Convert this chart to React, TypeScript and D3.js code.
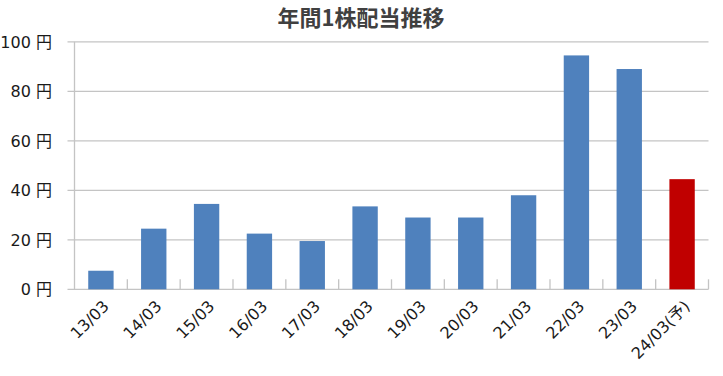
import * as d3 from 'd3';
import React, { useEffect, useRef } from "react";

const categories = ['13/03', '14/03', '15/03', '16/03', '17/03', '18/03', '19/03', '20/03', '21/03', '22/03', '23/03', '24/03(予)'];
const dividends = [7.5, 24.5, 34.5, 22.5, 19.5, 33.5, 29, 29, 38, 94.5, 89, 44.5];
const forecast = [false, false, false, false, false, false, false, false, false, false, false, true];
const yTicks = [0, 20, 40, 60, 80, 100];

const FONT = '"DejaVu Sans", "Noto Sans CJK JP", sans-serif';
const TITLE_FONT = '"Noto Sans CJK JP", sans-serif';

const App: React.FC = () => {
    const ref = useRef<SVGSVGElement>(null);

    useEffect(() => {
        if (!ref.current) return;
        const width = 723;
        const height = 376;
        const left = 74.5;
        const right = 708.5;
        const top = 41.8;
        const bottom = 289.3;

        const svg = d3.select(ref.current)
            .attr('width', width)
            .attr('height', height);
        svg.selectAll('*').remove();

        svg.append('rect').attr('width', width).attr('height', height).attr('fill', '#fff');

        const x = d3.scaleBand<string>()
            .domain(categories)
            .range([left, right])
            .paddingInner(0.52)
            .paddingOuter(0.26);

        const y = d3.scaleLinear().domain([0, 100]).range([bottom, top]);

        // gridlines
        svg.append('g')
            .selectAll('line')
            .data(yTicks)
            .enter()
            .append('line')
            .attr('x1', left - 7)
            .attr('x2', right)
            .attr('y1', d => y(d))
            .attr('y2', d => y(d))
            .attr('stroke', '#c4c4c4')
            .attr('stroke-width', 1.3);

        // vertical axis line
        svg.append('line')
            .attr('x1', left).attr('x2', left)
            .attr('y1', top).attr('y2', bottom)
            .attr('stroke', '#c4c4c4')
            .attr('stroke-width', 1.3);

        // x tick marks at band boundaries
        const step = x.step();
        svg.append('g')
            .selectAll('line')
            .data(categories)
            .enter()
            .append('line')
            .attr('x1', (d, i) => left + step * (i + 1))
            .attr('x2', (d, i) => left + step * (i + 1))
            .attr('y1', bottom)
            .attr('y2', bottom - 10)
            .attr('stroke', '#c4c4c4')
            .attr('stroke-width', 1.3);

        // bars
        svg.append('g')
            .selectAll('rect')
            .data(dividends)
            .enter()
            .append('rect')
            .attr('x', (d, i) => x(categories[i])!)
            .attr('width', x.bandwidth())
            .attr('y', d => y(d))
            .attr('height', d => bottom - y(d))
            .attr('fill', (d, i) => forecast[i] ? '#c00000' : '#4f81bd');

        // y labels
        svg.append('g')
            .selectAll('text')
            .data(yTicks)
            .enter()
            .append('text')
            .attr('x', 52)
            .attr('y', d => y(d))
            .attr('dy', '0.36em')
            .attr('text-anchor', 'end')
            .attr('font-family', FONT)
            .attr('font-size', 16)
            .attr('fill', '#1a1a1a')
            .text(d => `${d} 円`);

        // x labels
        svg.append('g')
            .selectAll('text')
            .data(categories)
            .enter()
            .append('text')
            .attr('transform', d => `translate(${x(d)! + x.bandwidth() / 2 + 5}, ${bottom + 14}) rotate(-45)`)
            .attr('text-anchor', 'end')
            .attr('dy', '0.35em')
            .attr('font-family', FONT)
            .attr('font-size', 16)
            .attr('fill', '#1a1a1a')
            .text(d => d);

        // title
        svg.append('text')
            .attr('x', 361)
            .attr('y', 26)
            .attr('text-anchor', 'middle')
            .attr('font-family', TITLE_FONT)
            .attr('font-weight', 'bold')
            .attr('font-size', 22)
            .attr('fill', '#404040')
            .text('年間1株配当推移');
    }, []);

    return (
        <div style={{ position: 'absolute', left: 0, top: 0 }}>
            <svg ref={ref}></svg>
        </div>
    );
};

export default App;
